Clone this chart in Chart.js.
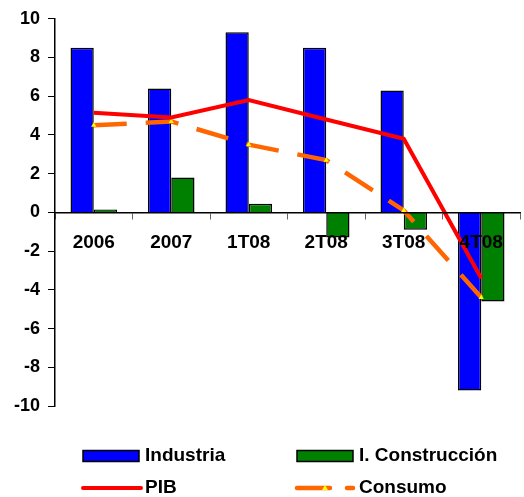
<!DOCTYPE html>
<html>
<head>
<meta charset="utf-8">
<script src="https://cdn.jsdelivr.net/npm/chart.js@4/dist/chart.umd.min.js"></script>
<style>
  html, body { margin: 0; padding: 0; background: #fff; }
  #wrap { width: 524px; height: 497px; }
</style>
</head>
<body>
<div id="wrap"><canvas id="chart" width="524" height="497"></canvas></div>
<script>
const categories = ['2006', '2007', '1T08', '2T08', '3T08', '4T08'];
const industria = [8.5, 6.4, 9.3, 8.5, 6.3, -9.2];
const construccion = [0.15, 1.8, 0.45, -1.3, -0.9, -4.6];
const pib = [5.15, 4.9, 5.8, 4.8, 3.8, -3.4];
const consumo = [4.5, 4.7, 3.5, 2.7, 0.1, -4.4];

const fontFamily = '"Liberation Sans", Arial, sans-serif';

// legend drawn by hand: two columns, like the original
const legendSlots = [
    { x: 83, y: 456 }, { x: 297, y: 456 },
    { x: 83, y: 488 }, { x: 297, y: 488 },
];

const legendPlugin = {
    id: 'twoColLegend',
    afterDraw(chart) {
        const ctx = chart.ctx
        ctx.save()
        ctx.font = 'bold 19px ' + fontFamily
        ctx.textBaseline = 'middle'
        ctx.fillStyle = '#000'
        chart.data.datasets.forEach((ds, i) => {
            const s = legendSlots[i]
            if (ds.type === 'bar') {
                ctx.fillStyle = ds.backgroundColor
                ctx.fillRect(s.x, s.y - 5.5, 56, 11)
                ctx.strokeStyle = '#000'
                ctx.lineWidth = 1.5
                ctx.strokeRect(s.x, s.y - 5.5, 56, 11)
            } else if (ds.borderDash && ds.borderDash.length) {
                ctx.strokeStyle = ds.borderColor
                ctx.lineWidth = ds.borderWidth
                ctx.beginPath()
                ctx.moveTo(s.x, s.y); ctx.lineTo(s.x + 33, s.y)
                ctx.moveTo(s.x + 50, s.y); ctx.lineTo(s.x + 56, s.y)
                ctx.stroke()
                ctx.fillStyle = ds.pointBackgroundColor
                ctx.beginPath()
                ctx.moveTo(s.x + 28, s.y - 3); ctx.lineTo(s.x + 31, s.y + 2); ctx.lineTo(s.x + 25, s.y + 2)
                ctx.closePath(); ctx.fill()
            } else {
                ctx.strokeStyle = ds.borderColor
                ctx.lineWidth = ds.borderWidth
                ctx.lineCap = 'round'
                ctx.beginPath()
                ctx.moveTo(s.x, s.y); ctx.lineTo(s.x + 58, s.y)
                ctx.stroke()
            }
            ctx.fillStyle = '#000'
            ctx.fillText(ds.label, s.x + 62, s.y)
        })
        ctx.restore()
    }
}

const config = {
    type: 'bar',
    data: {
        labels: categories,
        datasets: [
            {
                type: 'bar', label: 'Industria', data: industria,
                backgroundColor: '#0000ff', borderColor: '#000', borderWidth: 1.5,
                categoryPercentage: 0.6, barPercentage: 1, order: 3,
            },
            {
                type: 'bar', label: 'I. Construcción', data: construccion,
                backgroundColor: '#008000', borderColor: '#000', borderWidth: 1.5,
                categoryPercentage: 0.6, barPercentage: 1, order: 3,
            },
            {
                type: 'line', label: 'PIB', data: pib,
                borderColor: '#ff0000', borderWidth: 4, tension: 0,
                pointRadius: 0, order: 1,
            },
            {
                type: 'line', label: 'Consumo', data: consumo,
                borderColor: '#ff6600', borderWidth: 4.5, borderDash: [33, 19],
                tension: 0, pointStyle: 'triangle', pointRadius: 3,
                pointBackgroundColor: '#ffff00', pointBorderWidth: 0, order: 2,
            },
        ]
    },
    options: {
        responsive: false,
        animation: false,
        layout: { padding: { left: 6, top: 4, right: 0, bottom: 91 } },
        plugins: { legend: { display: false }, tooltip: { enabled: false } },
        scales: {
            y: {
                min: -10, max: 10,
                ticks: { stepSize: 2, color: '#000', padding: 8, font: { family: fontFamily, size: 18, weight: 'bold' } },
                grid: { drawOnChartArea: false, drawTicks: true, tickLength: 7, color: '#000' },
                border: { color: '#000', width: 1.5 },
            },
            x: {
                position: { y: 0 },
                ticks: { z: 1, autoSkip: false, color: '#000', padding: 13, font: { family: fontFamily, size: 19, weight: 'bold' } },
                grid: { drawOnChartArea: false, drawTicks: true, tickLength: 6, color: '#666', offset: true },
                border: { z: 1, color: '#000', width: 1.5 },
            }
        }
    },
    plugins: [legendPlugin]
};

const myChart = new Chart(document.getElementById('chart'), config);
</script>
</body>
</html>
